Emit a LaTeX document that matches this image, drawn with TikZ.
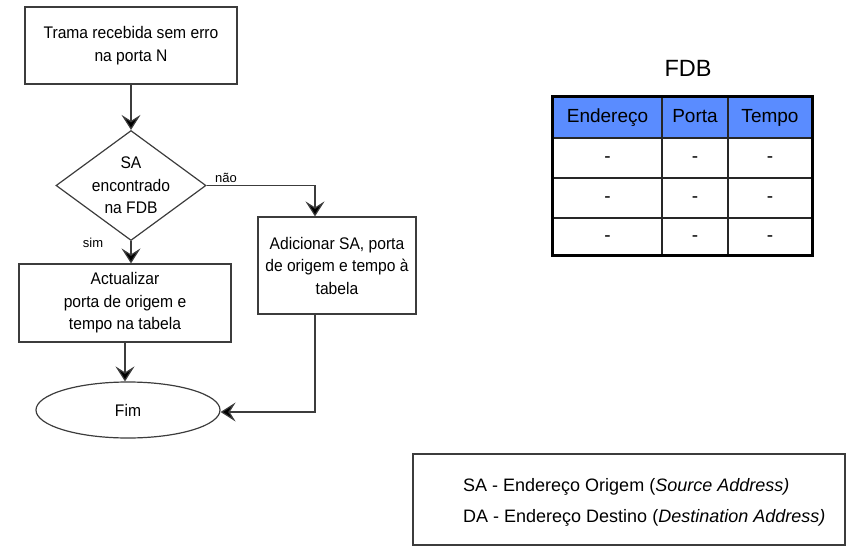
\documentclass[tikz,border=0pt]{standalone}
\usepackage{fontspec}
\setmainfont{Liberation Sans}
\newfontfamily\narrowfont[FakeStretch=0.93]{Liberation Sans}
\usetikzlibrary{shapes.geometric,arrows.meta,calc}
\definecolor{hdrblue}{RGB}{90,140,255}
\definecolor{linegray}{RGB}{60,60,60}
\tikzset{
  flowbox/.style={draw=linegray, line width=1.2pt, rectangle, inner sep=0pt, align=center,
    font=\narrowfont\fontsize{16.8}{22.5}\selectfont},
  conn/.style={draw=linegray, line width=1.2pt, -{Stealth[length=15pt,width=19pt,inset=6pt,fill=black]}},
  lbl/.style={font=\fontsize{13}{15}\selectfont, inner sep=0pt},
  cell/.style={draw=black!85, line width=1.8pt, rectangle, inner sep=0pt, font=\fontsize{19}{22}\selectfont,
    text height=13.6pt, text depth=4pt},
  hdr/.style={cell, fill=hdrblue},
}
\begin{document}
\begin{tikzpicture}[x=1pt,y=-1pt]
\useasboundingbox (0,0) rectangle (847,549);

% flowchart
\node[flowbox, minimum width=212pt, minimum height=77pt] (start) at (131,45.5)
  {Trama recebida sem erro\\na porta N};
\node[draw=linegray, line width=1.2pt, diamond, minimum width=150pt, minimum height=110pt, inner sep=0pt] (dia) at (131,185.5) {};
\node[align=center, font=\narrowfont\fontsize{16.8}{22.5}\selectfont, inner sep=0pt] (diatext) at (dia.center) {SA\\encontrado\\na FDB};
\node[flowbox, minimum width=158pt, minimum height=97pt] (add) at (337,265.5)
  {Adicionar SA, porta\\de origem e tempo à\\tabela};
\node[flowbox, minimum width=212pt, minimum height=78pt] (upd) at (125,303)
  {Actualizar\\porta de origem e\\tempo na tabela};
\node[draw=linegray, line width=1.2pt, ellipse, minimum width=184pt, minimum height=56pt, inner sep=0pt,
  font=\narrowfont\fontsize{16.8}{22.5}\selectfont] (fim) at (128,410) {Fim};

\coordinate (addin) at ([xshift=-22pt]add.north);
\coordinate (addout) at ([xshift=-22pt]add.south);

\draw[conn] (start.south) -- (dia.north);
\draw[conn] (dia.east) -| (addin);
\node[lbl] (nao) at (226,178) {não};
\draw[conn] (dia.south) -- (dia.south |- upd.north);
\node[lbl] (sim) at (93,243) {sim};
\draw[conn] (upd.south) -- (upd.south |- fim.north);
\draw[conn] (addout) |- ([yshift=-2pt]fim.east);

% FDB table
\node[font=\fontsize{23.5}{26}\selectfont, inner sep=0pt] (fdbtitle) at (688,68) {FDB};
\node[hdr, minimum width=109pt, minimum height=41pt] (h1) at (607.5,117.5) {Endereço};
\node[hdr, minimum width=66pt, minimum height=41pt] (h2) at (695,117.5) {Porta};
\node[hdr, minimum width=84pt, minimum height=41pt] (h3) at (770,117.5) {Tempo};
\foreach \r/\y/\h in {1/158/40, 2/198/40, 3/236.5/37}{
  \node[cell, minimum width=109pt, minimum height=\h pt] (c\r a) at (607.5,\y) {-};
  \node[cell, minimum width=66pt, minimum height=\h pt] (c\r b) at (695,\y) {-};
  \node[cell, minimum width=84pt, minimum height=\h pt] (c\r c) at (770,\y) {-};
}
\draw[black, line width=3pt] (h1.north west) rectangle (c3c.south east);

% legend
\node[draw=linegray, line width=1.2pt, rectangle, minimum width=432pt, minimum height=91pt, inner sep=0pt] (legend) at (629,499.5) {};
\node[anchor=west, align=left, inner sep=0pt, font=\fontsize{18}{31}\selectfont] (legtext) at (463,502.5)
  {SA - Endereço Origem (\textit{Source Address)}\\DA - Endereço Destino (\textit{Destination Address)}};
\end{tikzpicture}
\end{document}
